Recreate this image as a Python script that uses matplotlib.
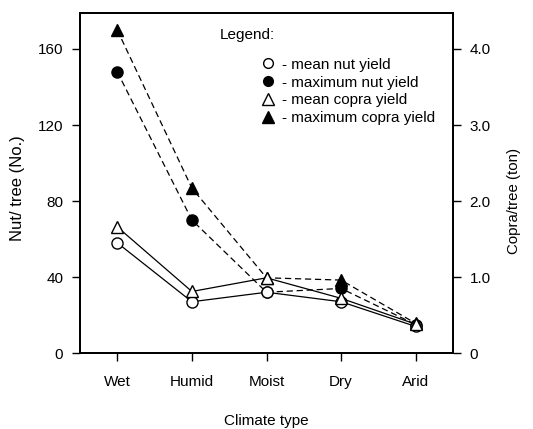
import matplotlib
matplotlib.use("Agg")
import matplotlib.pyplot as plt
from matplotlib.lines import Line2D

plt.rcParams['font.family'] = ['Liberation Sans', 'DejaVu Sans']

climate = ["Wet", "Humid", "Moist", "Dry", "Arid"]
mean_nut = [58, 27, 32, 27, 14]
max_nut = [148, 70, 32, 34, 15]
mean_copra = [1.66, 0.81, 0.99, 0.72, 0.38]
max_copra = [4.25, 2.17, 0.99, 0.96, 0.39]

fig = plt.figure(figsize=(5.33, 4.29), dpi=100)
ax = fig.add_axes([0.150, 0.177, 0.700, 0.793])
ax2 = ax.twinx()

x = list(range(len(climate)))
ms = 8
ax.plot(x, max_nut, color='black', lw=0.9, ls=(0, (5, 3)), marker='o', ms=ms,
        mfc='black', mec='black', zorder=3)
ax.plot(x, mean_nut, color='black', lw=0.9, ls='-', marker='o', ms=ms,
        mfc='white', mec='black', mew=1.0, zorder=4)
ax2.plot(x, max_copra, color='black', lw=0.9, ls=(0, (5, 3)), marker='^', ms=ms + 1,
         mfc='black', mec='black', zorder=3)
ax2.plot(x, mean_copra, color='black', lw=0.9, ls='-', marker='^', ms=ms + 1,
         mfc='white', mec='black', mew=1.0, zorder=4)

ax.set_xlim(-0.5, 4.5)
ax.set_ylim(0, 179)
ax2.set_ylim(0, 179 / 40)
ax.set_xticks(x)
ax.set_xticklabels(climate)
ax.set_yticks([0, 40, 80, 120, 160])
ax2.set_yticks([0, 1, 2, 3, 4])
ax2.set_yticklabels(["0", "1.0", "2.0", "3.0", "4.0"])

for a in (ax, ax2):
    a.tick_params(direction='out', length=6, width=1.0, labelsize=11, pad=6)
    for s in a.spines.values():
        s.set_linewidth(1.3)
ax.tick_params(axis='x', pad=10)

ax.set_ylabel("Nut/ tree (No.)", fontsize=12)
ax.yaxis.set_label_coords(-0.148, 0.485)
ax2.set_ylabel("Copra/tree (ton)", fontsize=10.8)
ax2.yaxis.set_label_coords(1.145, 0.447)
ax.set_xlabel("Climate type", fontsize=11, labelpad=18)

ax.text(0.375, 0.935, "Legend:", transform=ax.transAxes, fontsize=11,
        va='center', ha='left')
handles = [
    Line2D([], [], ls='none', marker='o', ms=7, mfc='white', mec='black'),
    Line2D([], [], ls='none', marker='o', ms=7, mfc='black', mec='black'),
    Line2D([], [], ls='none', marker='^', ms=8, mfc='white', mec='black'),
    Line2D([], [], ls='none', marker='^', ms=8, mfc='black', mec='black'),
]
labels = ["- mean nut yield", "- maximum nut yield",
          "- mean copra yield", "- maximum copra yield"]
ax.legend(handles, labels, loc='upper left', bbox_to_anchor=(0.488, 0.868),
          frameon=False, fontsize=11, handlelength=0.8, handletextpad=0.5,
          labelspacing=0.25, borderpad=0, borderaxespad=0)

fig.savefig("out.png", dpi=100)
